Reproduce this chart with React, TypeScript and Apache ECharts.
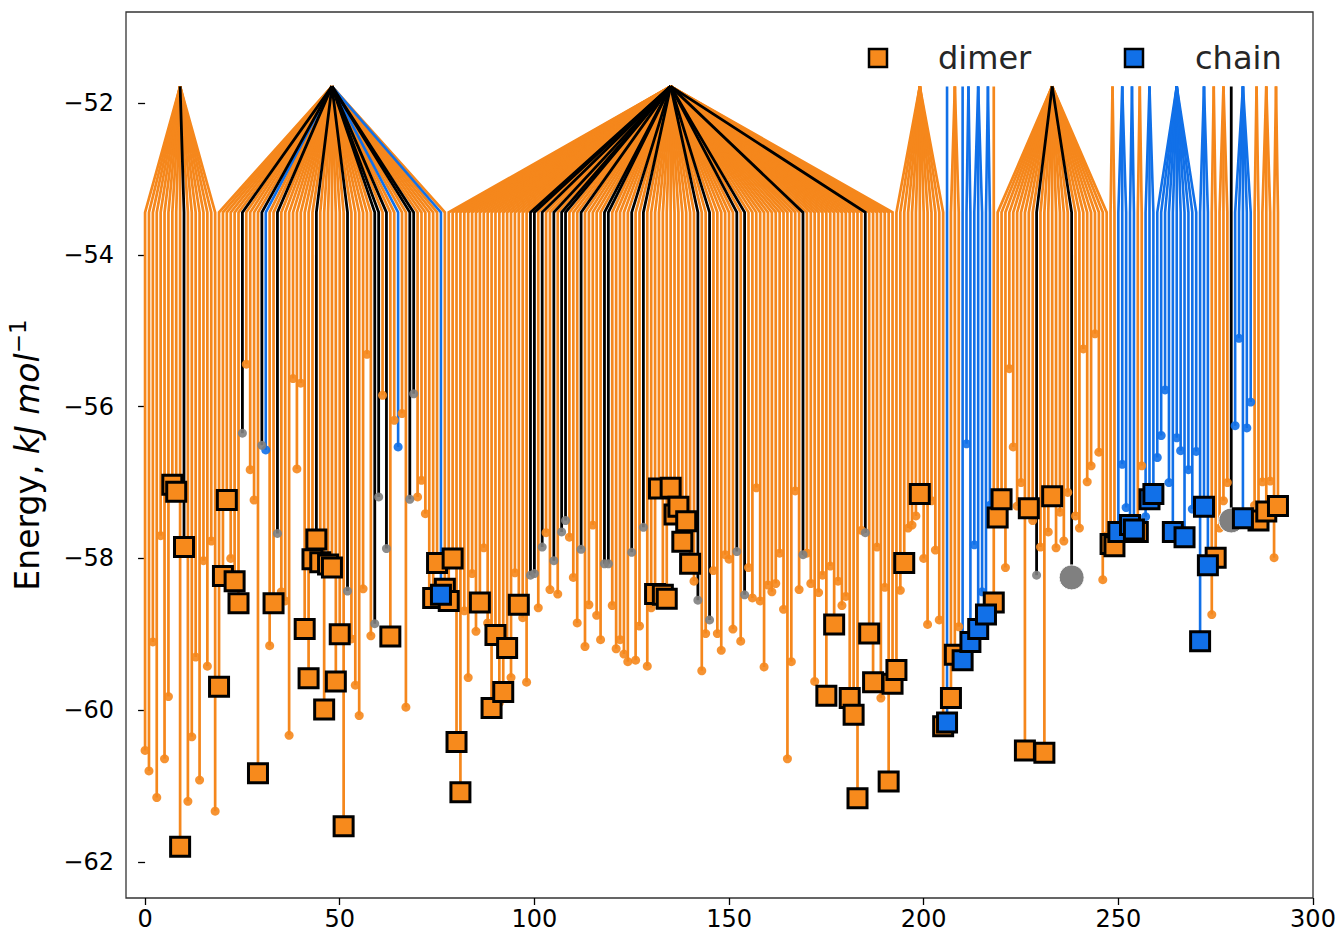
import React, { useEffect, useRef } from 'react';
import * as echarts from 'echarts';

// Energy (kJ/mol) of every minimum, index = x position
const energies = [
  -60.53, -60.8, -59.1, -61.15, -57.7, -60.64, -59.82, -57.03, -57.12, -61.8,
  -57.85, -61.2, -60.35, -59.3, -60.92, -58.03, -59.42, -57.77, -61.33, -59.69,
  -58.23, -57.23, -58.0, -58.3, -58.59, -56.35, -55.44, -56.83, -57.23, -60.83,
  -56.51, -56.57, -59.15, -58.59, -57.67, -58.44, -58.56, -60.33, -55.63, -56.82,
  -55.69, -58.93, -59.58, -58.01, -57.75, -58.05, -59.99, -58.08, -58.12, -59.62,
  -59.0, -61.53, -58.43, -59.06, -59.67, -60.07, -58.4, -55.31, -59.02, -58.86,
  -57.19, -55.85, -57.87, -59.03, -56.18, -56.53, -56.09, -59.96, -57.22, -55.83,
  -57.19, -56.97, -57.41, -58.45, -58.52, -58.06, -58.48, -58.4, -58.56, -58.0,
  -60.42, -61.08, -58.69, -59.57, -58.2, -58.96, -58.58, -57.86, -58.85, -59.97,
  -59.01, -59.9, -59.76, -59.18, -59.57, -58.19, -58.61, -58.78, -59.63, -58.22,
  -58.2, -58.65, -57.85, -57.66, -58.41, -58.03, -58.47, -57.65, -57.5, -57.72,
  -58.25, -58.85, -57.88, -59.16, -58.61, -57.56, -58.75, -59.07, -58.07, -58.07,
  -58.62, -59.19, -59.07, -59.26, -59.36, -57.92, -59.34, -58.89, -57.59, -59.42,
  -58.65, -58.47, -57.08, -58.48, -58.53, -57.07, -57.42, -57.32, -57.78, -57.51,
  -58.07, -58.3, -58.55, -59.48, -58.99, -58.81, -58.16, -58.99, -59.21, -57.95,
  -58.01, -58.93, -57.91, -59.09, -58.48, -58.12, -58.52, -57.07, -58.56, -59.43,
  -58.35, -58.44, -58.33, -57.93, -58.67, -60.64, -59.36, -57.11, -58.41, -57.95,
  -57.93, -58.33, -59.62, -58.45, -58.22, -59.81, -58.1, -58.87, -58.3, -58.62,
  -58.5, -59.84, -60.06, -61.16, -57.63, -57.66, -58.99, -59.63, -57.85, -59.84,
  -58.38, -60.94, -59.65, -59.47, -58.42, -58.06, -57.6, -57.56, -57.44, -57.15,
  -58.0, -58.87, -57.24, -57.89, -58.81, -60.21, -60.16, -59.84, -59.27, -58.9,
  -59.34, -56.49, -59.1, -57.82, -58.93, -58.44, -58.74, -57.3, -58.58, -57.46,
  -57.22, -58.12, -55.5, -56.53, -57.31, -57.0, -60.53, -57.34, -57.5, -58.22,
  -57.85, -60.56, -57.65, -57.18, -57.86, -57.39, -57.77, -57.13, -58.25, -57.44,
  -57.6, -55.24, -56.99, -56.78, -55.04, -56.6, -58.28, -57.7, -57.81, -57.84,
  -57.65, -56.76, -57.33, -57.56, -57.62, -57.65, -56.78, -57.45, -57.22, -57.15,
  -56.67, -56.38, -55.78, -57.0, -57.65, -56.41, -56.58, -57.72, -56.83, -57.35,
  -56.59, -59.09, -57.32, -58.09, -58.74, -57.99, -57.6, -57.24, -57.0, -57.5,
  -56.25, -55.1, -57.47, -56.28, -55.94, -57.3, -57.5, -56.99, -57.38, -56.98,
  -57.99, -57.31,
];

// Branch groups [first, last] joined at the top level
const groups = [
  [0, 18], [19, 77], [78, 192], [193, 205], [206, 206], [207, 209], [210, 210],
  [211, 212], [213, 215], [216, 217], [218, 218], [219, 247], [248, 249],
  [250, 252], [253, 254], [255, 256], [257, 259], [260, 270], [271, 273],
  [274, 275], [276, 278], [279, 279], [280, 284], [285, 286], [287, 289], [290, 291],
];

const blackIdx = [10, 25, 30, 34, 44, 52, 59, 60, 62, 68, 69, 99, 100, 102, 105, 107, 108,
  112, 118, 119, 125, 128, 142, 145, 152, 154, 169, 185, 229, 238, 279];
const blueIdx = [31, 65, 76, 206, 210, 211, 212, 213, 214, 215, 216, 217, 250, 251, 252,
  253, 254, 257, 258, 259, 260, 261, 262, 263, 264, 265, 266, 267, 268, 269, 270, 271,
  272, 273, 280, 281, 282, 283, 284];
const dimerIdx = [7, 8, 9, 10, 19, 20, 21, 23, 24, 29, 33, 41, 42, 43, 44, 45, 46, 47, 48,
  49, 50, 51, 63, 74, 75, 77, 78, 79, 80, 81, 86, 89, 90, 92, 93, 96, 131, 132, 133, 134,
  135, 136, 137, 138, 139, 140, 175, 177, 181, 182, 183, 186, 187, 191, 192, 193, 195,
  199, 205, 207, 208, 218, 219, 220, 226, 227, 231, 233, 248, 249, 255, 275, 286, 288, 291];
const chainIdx = [76, 206, 210, 212, 214, 216, 250, 253, 254, 258, 259, 264, 267, 271,
  272, 273, 282];
const bigGreyIdx = [238, 279];

const xTicks = [0, 50, 100, 150, 200, 250, 300];
const yTicks = [-62, -60, -58, -56, -54, -52];
const topLevel = -51.78;
const baseLevel = -53.44;

const ORANGE = '#f5871c';
const ORANGE_FILL = '#f78a1c';
const BLUE = '#1170e8';
const GREY = '#808080';
const FONT = 'DejaVu Sans';

const minus = (v: number) => (v < 0 ? '\u2212' + Math.abs(v) : String(v));

export default function App() {
  const ref = useRef<HTMLDivElement>(null);
  useEffect(() => {
    const chart = echarts.init(ref.current!, null, { renderer: 'svg' });
    const colorOf = (i: number) =>
      blackIdx.includes(i) ? 'k' : blueIdx.includes(i) ? 'b' : 'o';
    const apex: number[] = new Array(energies.length).fill(0);
    groups.forEach(([s, e]) => {
      for (let i = s; i <= e; i++) apex[i] = (s + e) / 2;
    });
    const lines: Record<string, any[]> = { o: [], b: [], k: [] };
    const marks: Record<string, any[]> = { o: [], b: [], k: [] };
    energies.forEach((E, i) => {
      const c = colorOf(i);
      lines[c].push({ coords: [[apex[i], topLevel], [i, baseLevel], [i, E]] });
      if (!dimerIdx.includes(i) && !chainIdx.includes(i) && !bigGreyIdx.includes(i)) {
        marks[c].push([i, E]);
      }
    });
    const lineSeries = (key: string, color: string, width: number, z: number) => ({
      type: 'lines',
      coordinateSystem: 'cartesian2d',
      polyline: true,
      silent: true,
      data: lines[key],
      lineStyle: { color, width, opacity: 1 },
      z,
    });
    const markSeries = (key: string, color: string, z: number) => ({
      type: 'scatter',
      data: marks[key],
      symbol: 'circle',
      symbolSize: 9,
      itemStyle: { color, opacity: 0.9 },
      silent: true,
      z,
    });
    chart.setOption({
      animation: false,
      grid: {
        left: 126, right: 30, top: 12, bottom: 36,
        outerBoundsMode: 'none',
        containLabel: false,
        show: true, borderColor: '#333', borderWidth: 1.3, backgroundColor: 'transparent',
      },
      xAxis: {
        type: 'value', min: -4.9, max: 300,
        axisLine: { show: false },
        splitLine: { show: false },
        axisTick: { show: true, length: 7, lineStyle: { color: '#000', width: 1.3 }, customValues: xTicks },
        axisLabel: {
          customValues: xTicks, fontSize: 24, fontFamily: FONT, color: '#000', margin: 9,
          formatter: (v: number) => minus(v),
        },
      },
      yAxis: {
        type: 'value', min: -62.474, max: -50.8,
        axisLine: { show: false },
        splitLine: { show: false },
        axisTick: { show: true, length: 7, lineStyle: { color: '#000', width: 1.3 }, customValues: yTicks },
        axisLabel: {
          customValues: yTicks, fontSize: 24, fontFamily: FONT, color: '#000', margin: 12,
          formatter: (v: number) => minus(v),
        },
        name: '{a|Energy, }{b|kJ mol}{c|\u22121}',
        nameLocation: 'middle',
        nameRotate: 90,
        nameGap: 78,
        nameTextStyle: {
          fontFamily: FONT, fontSize: 33, color: '#000',
          rich: {
            a: { fontFamily: FONT, fontSize: 33, color: '#000', lineHeight: 42 },
            b: { fontFamily: FONT, fontSize: 33, color: '#000', fontStyle: 'italic', lineHeight: 42 },
            c: { fontFamily: FONT, fontSize: 23, color: '#000', verticalAlign: 'top', lineHeight: 42 },
          },
        },
      },
      series: [
        lineSeries('o', ORANGE, 2.7, 2),
        lineSeries('b', BLUE, 2.6, 3),
        lineSeries('k', '#000', 2.8, 4),
        markSeries('o', ORANGE, 5),
        markSeries('b', BLUE, 5),
        markSeries('k', GREY, 5),
        {
          type: 'scatter',
          data: bigGreyIdx.map((i) => [i, energies[i]]),
          symbol: 'circle', symbolSize: 25,
          itemStyle: { color: GREY, borderColor: '#fff', borderWidth: 1, opacity: 1 },
          silent: true, z: 6,
        },
        {
          type: 'scatter', name: 'dimer',
          data: dimerIdx.map((i) => [i, energies[i]]),
          symbol: 'rect', symbolSize: 19,
          itemStyle: { color: ORANGE_FILL, borderColor: '#000', borderWidth: 3, opacity: 1 },
          silent: true, z: 7,
        },
        {
          type: 'scatter', name: 'chain',
          data: chainIdx.map((i) => [i, energies[i]]),
          symbol: 'rect', symbolSize: 19,
          itemStyle: { color: BLUE, borderColor: '#000', borderWidth: 3, opacity: 1 },
          silent: true, z: 8,
        },
      ],
      graphic: [
        { type: 'rect', shape: { x: 869, y: 49, width: 18, height: 18 }, style: { fill: ORANGE_FILL, stroke: '#000', lineWidth: 2.5 }, z: 20 },
        { type: 'text', x: 938, y: 58, style: { text: 'dimer', fontSize: 32, fontFamily: FONT, fill: '#262626', verticalAlign: 'middle', align: 'left' }, z: 20 },
        { type: 'rect', shape: { x: 1125, y: 49, width: 18, height: 18 }, style: { fill: BLUE, stroke: '#000', lineWidth: 2.5 }, z: 20 },
        { type: 'text', x: 1195, y: 58, style: { text: 'chain', fontSize: 32, fontFamily: FONT, fill: '#262626', verticalAlign: 'middle', align: 'left' }, z: 20 },
      ],
    });
    return () => chart.dispose();
  }, []);
  return (
    <div
      ref={ref}
      style={{ position: 'fixed', left: 0, top: 0, width: 1343, height: 934, background: '#fff' }}
    />
  );
}
